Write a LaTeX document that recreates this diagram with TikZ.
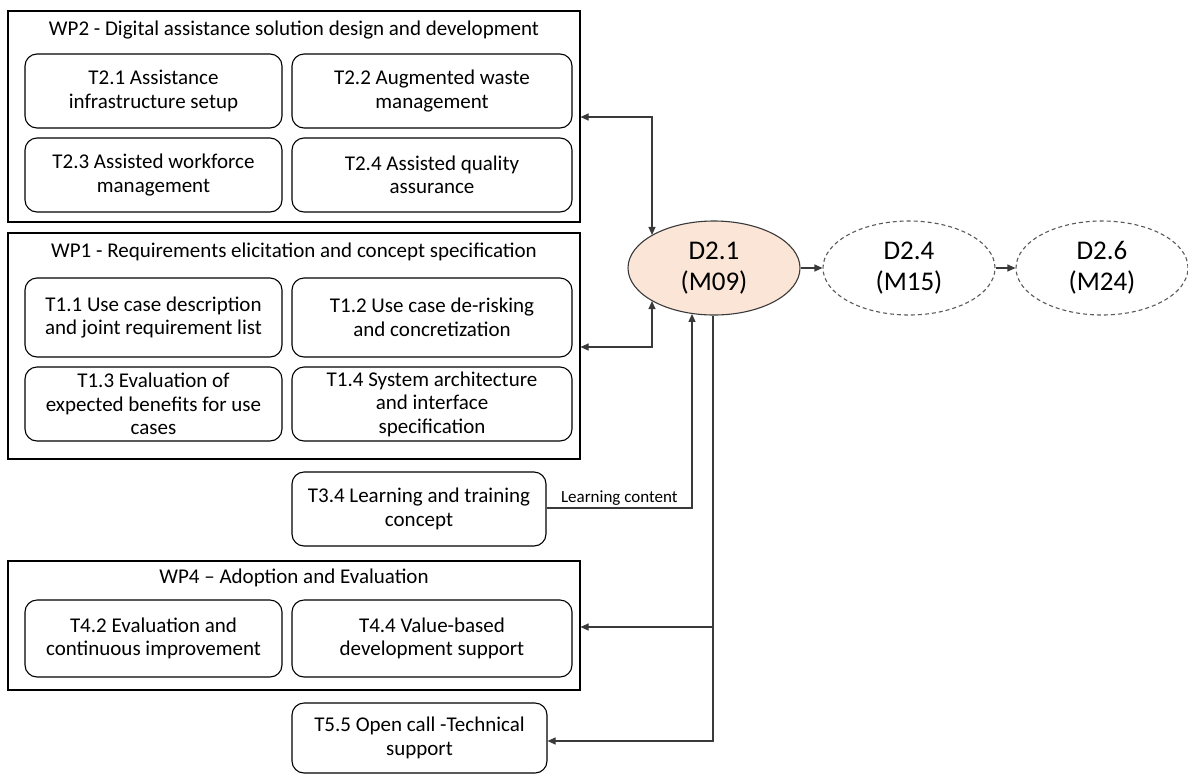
\documentclass[tikz,border=0pt]{standalone}
\usepackage{fontspec}
\setmainfont{Carlito}
\usetikzlibrary{arrows.meta,shapes.geometric}
\definecolor{peach}{HTML}{FBE5D6}
\definecolor{edge}{HTML}{3A3A3A}
\definecolor{dashgray}{HTML}{595959}
\begin{document}
\begin{tikzpicture}[x=1pt,y=-1pt,
  wpbox/.style={draw=black, line width=1.1pt, inner sep=0pt},
  task/.style={draw=black, line width=1.1pt, rounded corners=12pt, align=center,
    font=\fontsize{21}{23.5}\selectfont, inner sep=1pt},
  wptitle/.style={font=\fontsize{21}{23.5}\selectfont, inner sep=0pt},
  deliv/.style={ellipse, minimum width=172pt, minimum height=94pt, align=center,
    inner sep=0pt, line width=1.1pt, font=\fontsize{27}{31}\selectfont},
  conn/.style={line width=1.1pt, draw=edge},
  tip/.style={-{Triangle[length=8pt,width=7pt]}},
  tips/.style={{Triangle[length=8pt,width=7pt]}-{Triangle[length=8pt,width=7pt]}},
  lbl/.style={font=\fontsize{17}{19}\selectfont, inner sep=2pt}
]
\useasboundingbox (0,0) rectangle (1188,774);

% WP2
\node[wpbox, minimum width=572pt, minimum height=211pt] (wp2) at (294,116.5) {};
\node[wptitle] (wp2t) at (294,30) {WP2 - Digital assistance solution design and development};
\node[task, minimum width=257pt, minimum height=74pt] (t21) at (153.5,91) {T2.1 Assistance\\infrastructure setup};
\node[task, minimum width=280pt, minimum height=74pt] (t22) at (432,91) {T2.2 Augmented waste\\management};
\node[task, minimum width=257pt, minimum height=74pt] (t23) at (153.5,175) {T2.3 Assisted workforce\\management};
\node[task, minimum width=280pt, minimum height=74pt] (t24) at (432,175) {T2.4 Assisted quality\\assurance};

% WP1
\node[wpbox, minimum width=572pt, minimum height=226pt] (wp1) at (294,346) {};
\node[wptitle] (wp1t) at (294,252) {WP1 - Requirements elicitation and concept specification};
\node[task, minimum width=257pt, minimum height=79pt] (t11) at (153.5,317.5) {T1.1 Use case description\\and joint requirement list};
\node[task, minimum width=280pt, minimum height=79pt] (t12) at (432,317.5) {T1.2 Use case de-risking\\and concretization};
\node[task, minimum width=257pt, minimum height=74pt] (t13) at (153.5,404) {T1.3 Evaluation of\\expected benefits for use\\cases};
\node[task, minimum width=280pt, minimum height=74pt] (t14) at (432,404) {T1.4 System architecture\\and interface\\specification};

% T3.4
\node[task, minimum width=254pt, minimum height=74pt] (t34) at (419,509) {T3.4 Learning and training\\concept};

% WP4
\node[wpbox, minimum width=572pt, minimum height=129pt] (wp4) at (294,625.5) {};
\node[wptitle] (wp4t) at (294,578) {WP4 – Adoption and Evaluation};
\node[task, minimum width=257pt, minimum height=77pt] (t42) at (153.5,638.5) {T4.2 Evaluation and\\continuous improvement};
\node[task, minimum width=280pt, minimum height=77pt] (t44) at (432,638.5) {T4.4 Value-based\\development support};

% T5.5
\node[task, minimum width=255pt, minimum height=70pt] (t55) at (419.5,738) {T5.5 Open call -Technical\\support};

% Deliverables
\node[deliv, draw=edge, fill=peach] (d21) at (714,268) {D2.1\\(M09)};
\node[deliv, draw=dashgray, dash pattern=on 4pt off 3pt] (d24) at (909,268) {D2.4\\(M15)};
\node[deliv, draw=dashgray, dash pattern=on 4pt off 3pt] (d26) at (1102,268) {D2.6\\(M24)};

% helper coordinates
\coordinate (c1) at (652,117);
\coordinate (c2) at (652,347);
\coordinate (c3) at (692,508);
\coordinate (c4) at (713,627);
\coordinate (c5) at (713,741);
\coordinate (c6) at (713,268);

% connectors
\draw[conn,tips] (wp2.east |- c1) -- (c1) -- (c1 |- d21.152);
\draw[conn,tips] (wp1.east |- c2) -- (c2) -- (c2 |- d21.208);
\draw[conn,tip] (t34.east |- c3) -- node[lbl, above] (lc) {Learning content} (c3) -- (c3 |- d21.244);
\draw[conn,tip] (c6 |- d21.south) -- (c5) -- (t55.east |- c5);
\draw[conn,tip] (c4) -- (wp4.east |- c4);
\draw[conn,tip] (d21) -- (d24);
\draw[conn,tip] (d24) -- (d26);
\end{tikzpicture}
\end{document}
